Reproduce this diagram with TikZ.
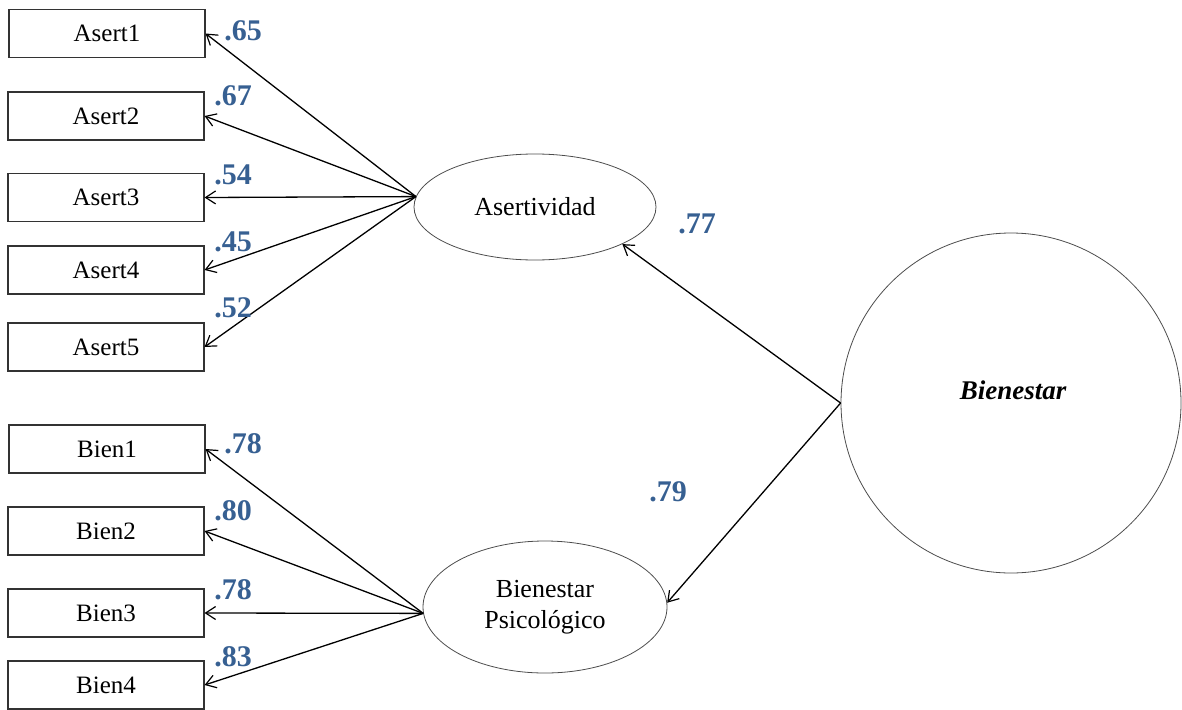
\documentclass[tikz,border=0pt]{standalone}
\usepackage{fontspec}
\setmainfont{Liberation Serif}
\usetikzlibrary{shapes.geometric,arrows.meta}
\definecolor{coefblue}{RGB}{55,96,146}
\tikzset{
  indicator/.style={draw=black!80, line width=1.1pt, fill=white, minimum width=196pt,
    minimum height=48pt, inner sep=0pt, font=\fontsize{25}{28}\selectfont},
  factor/.style={ellipse, draw=black!70, line width=0.8pt, inner sep=0pt,
    font=\fontsize{26}{31}\selectfont, align=center},
  general/.style={circle, draw=black!70, line width=0.8pt, inner sep=0pt,
    minimum size=340pt},
  generallabel/.style={inner sep=0pt, font=\fontsize{27}{30}\selectfont\bfseries\itshape},
  load/.style={-{Straight Barb[length=10pt,width=13pt,line width=1.2pt]}, line width=1.3pt},
  coef/.style={text=coefblue, font=\fontsize{30}{32}\selectfont\bfseries, inner sep=0pt}
}
\begin{document}
\begin{tikzpicture}[x=1pt,y=-1pt]
\useasboundingbox (0,0) rectangle (1182,709);
\begin{scope}
\clip (0,0) rectangle (1182,709);

% observed indicators
\node[indicator] (a1) at (107,33.5) {Asert1};
\node[indicator] (a2) at (106,116) {Asert2};
\node[indicator] (a3) at (106,197.5) {Asert3};
\node[indicator] (a4) at (106,270) {Asert4};
\node[indicator] (a5) at (106,347) {Asert5};
\node[indicator] (b1) at (107,449) {Bien1};
\node[indicator] (b2) at (106,531) {Bien2};
\node[indicator] (b3) at (106,613) {Bien3};
\node[indicator] (b4) at (106,685) {Bien4};

% latent factors
\node[factor, minimum width=242pt, minimum height=106pt] (A) at (535,207) {Asertividad};
\node[factor, minimum width=244pt, minimum height=132pt] (B) at (545,607) {Bienestar\\Psicológico};
\node[general] (C) at (1011,403) {};
\node[generallabel] (Ct) at (1013,390) {Bienestar};

% factor loadings
\foreach \t in {a1,a2,a3,a4,a5} \draw[load] (A.175) -- (\t.east);
\foreach \t in {b1,b2,b3,b4} \draw[load] (B.183) -- (\t.east);
\draw[load] (C.west) -- (A.-23);
\draw[load] (C.west) -- (B.2);

% standardized coefficients
\node[coef] (c1) at (243,31) {.65};
\node[coef] (c2) at (233,96) {.67};
\node[coef] (c3) at (233,175) {.54};
\node[coef] (c4) at (233,242) {.45};
\node[coef] (c5) at (233,308) {.52};
\node[coef] (c6) at (243,444) {.78};
\node[coef] (c7) at (233,511) {.80};
\node[coef] (c8) at (233,590) {.78};
\node[coef] (c9) at (233,657) {.83};
\node[coef] (c10) at (697,224) {.77};
\node[coef] (c11) at (668,492) {.79};
\end{scope}
\end{tikzpicture}
\end{document}
